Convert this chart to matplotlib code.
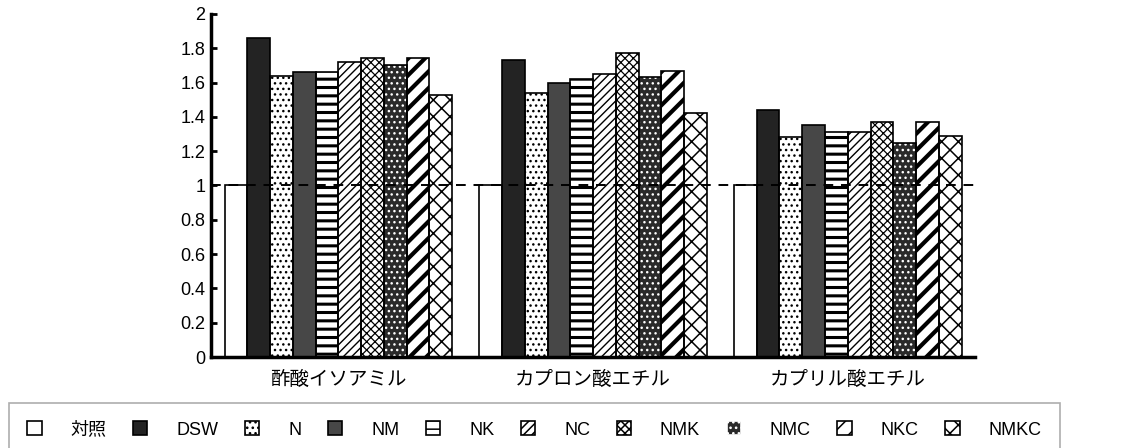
import numpy as np
import matplotlib.pyplot as plt
from matplotlib.patches import Rectangle

plt.rcParams['font.family'] = ['Liberation Sans', 'Noto Sans CJK JP']

groups = ['酢酸イソアミル', 'カプロン酸エチル', 'カプリル酸エチル']
treatments = ['対照', 'DSW', 'N', 'NM', 'NK', 'NC', 'NMK', 'NMC', 'NKC', 'NMKC']

# relative values per treatment, one entry per ester
values = {
    '対照': [1.00, 1.00, 1.00],
    'DSW':  [1.86, 1.73, 1.44],
    'N':    [1.64, 1.54, 1.28],
    'NM':   [1.66, 1.60, 1.35],
    'NK':   [1.66, 1.62, 1.31],
    'NC':   [1.72, 1.65, 1.31],
    'NMK':  [1.74, 1.77, 1.37],
    'NMC':  [1.70, 1.63, 1.25],
    'NKC':  [1.74, 1.67, 1.37],
    'NMKC': [1.53, 1.42, 1.29],
}

yticks = [0, 0.2, 0.4, 0.6, 0.8, 1, 1.2, 1.4, 1.6, 1.8, 2]
ytick_labels = ['0', '0.2', '0.4', '0.6', '0.8', '1', '1.2', '1.4', '1.6', '1.8', '2']

# face, hatch, hatch colour, hatch linewidth
styles = {
    '対照': ('white', '', 'black', 1.0),
    'DSW':  ('#232323', '', 'black', 1.0),
    'N':    ('white', '...', 'black', 1.0),
    'NM':   ('#474747', '', 'black', 1.0),
    'NK':   ('white', '--', 'black', 2.2),
    'NC':   ('white', '////', 'black', 1.0),
    'NMK':  ('white', 'xxxx', 'black', 0.9),
    'NMC':  ('#2a2a2a', '...', 'white', 1.0),
    'NKC':  ('white', '//', 'black', 3.0),
    'NMKC': ('white', 'xx', 'black', 1.1),
}

fig = plt.figure(figsize=(11.37, 4.48), dpi=100)
ax = fig.add_axes([0.1856, 0.203, 0.672, 0.766])

x = np.arange(len(groups))
w = 0.0894
handles = []
for i, name in enumerate(treatments):
    face, hatch, hcol, hlw = styles[name]
    plt.rcParams['hatch.linewidth'] = hlw
    pos = x + (i - 4.5) * w
    ax.bar(pos, values[name], w, color=face, edgecolor=hcol, hatch=hatch,
           linewidth=0, zorder=2)
    ax.bar(pos, values[name], w, fill=False, edgecolor='black',
           linewidth=1.2, zorder=3)
    handles.append(Rectangle((0, 0), 1, 1, facecolor=face, edgecolor=hcol,
                             hatch=hatch, linewidth=1.2))

ax.axhline(1, color='black', linestyle=(0, (5, 4)), linewidth=1.4, zorder=4)

ax.set_xlim(-0.5, 2.5)
ax.set_ylim(0, 2)
ax.set_yticks(yticks)
ax.set_yticklabels(ytick_labels, fontsize=13)
ax.set_xticks(x)
ax.set_xticklabels(groups, fontsize=14)
ax.tick_params(axis='x', length=0, pad=10)
ax.tick_params(axis='y', direction='in', length=4, width=2, pad=4)
for side in ['top', 'right']:
    ax.spines[side].set_visible(False)
for side in ['left', 'bottom']:
    ax.spines[side].set_linewidth(2.5)

leg = fig.legend(handles, treatments, loc='upper left', ncol=10,
                 bbox_to_anchor=(0.0, -0.02, 0.94, 0.14), mode='expand',
                 fontsize=13, handlelength=0.8, handleheight=0.8,
                 handletextpad=1.6, borderpad=1.0, fancybox=False,
                 edgecolor='#999999')
leg.get_frame().set_linewidth(1.2)

fig.savefig('out.png', dpi=100)
